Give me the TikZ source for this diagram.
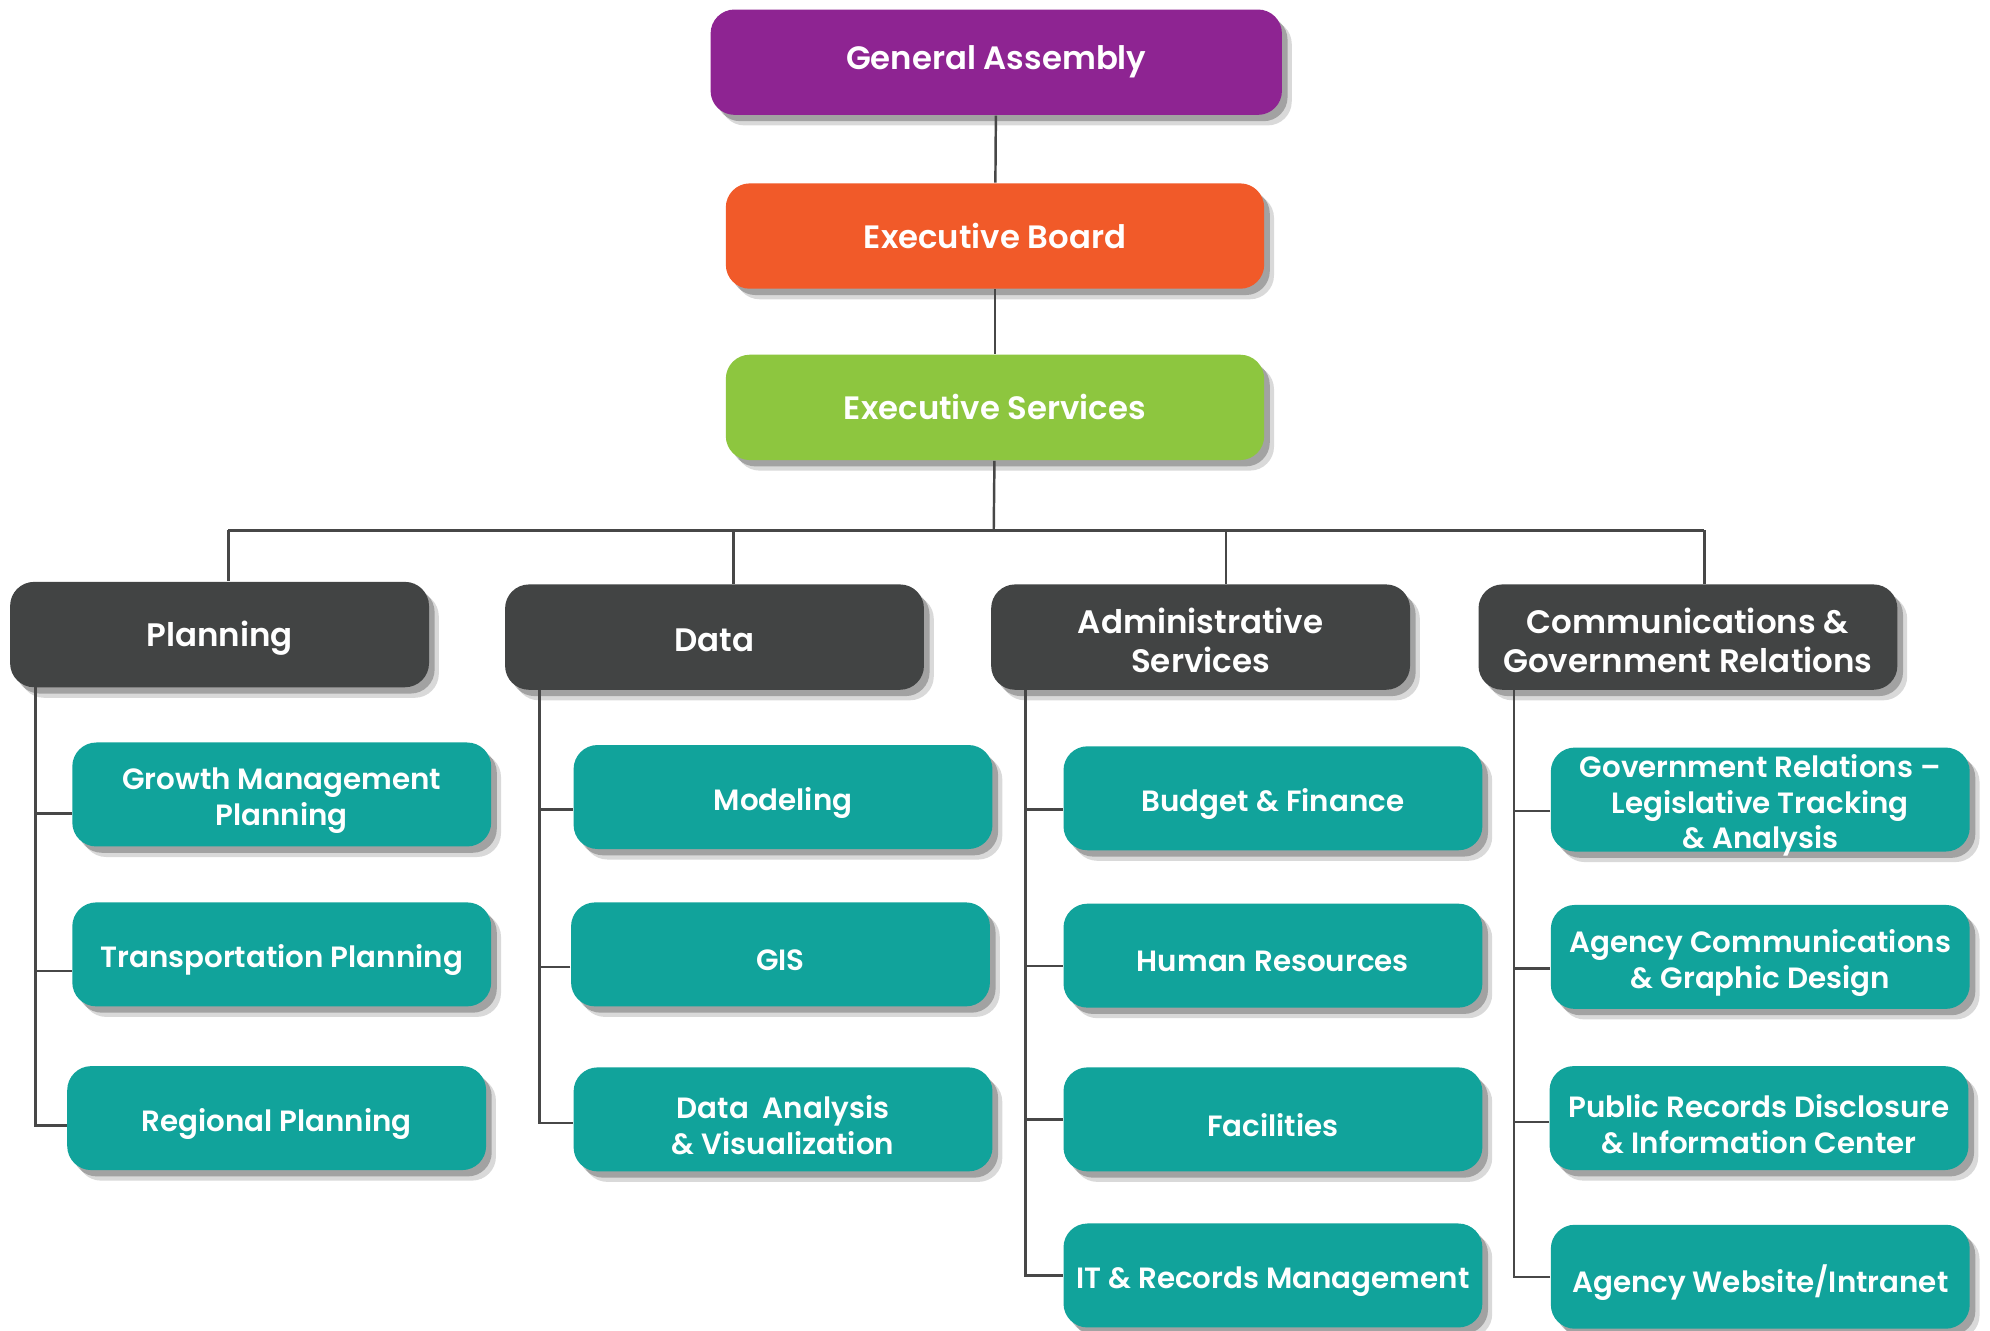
\documentclass[tikz,border=0pt]{standalone}
\usepackage{fontspec}
\IfFontExistsTF{Poppins SemiBold}{\setmainfont{Poppins}[BoldFont={Poppins SemiBold}]}{\setmainfont{Poppins}}
\usepackage{tikz}
\usetikzlibrary{shadows}
\usetikzlibrary{calc}
\definecolor{gapurple}{HTML}{8E2492}
\definecolor{eborange}{HTML}{F15A29}
\definecolor{esgreen}{HTML}{8DC63F}
\definecolor{deptgray}{HTML}{424444}
\definecolor{unitteal}{HTML}{11A39B}
\definecolor{linegray}{HTML}{474747}

\begin{document}
\begin{tikzpicture}[x=0.0127cm,y=-0.0127cm,
    box/.style={rounded corners=0.24cm, text=white, align=center, inner sep=0pt,
      drop shadow={shadow xshift=2.8pt, shadow yshift=-3pt, opacity=0.15, fill=black},
      drop shadow={shadow xshift=1.6pt, shadow yshift=-1.8pt, opacity=0.25, fill=black}},
    boxtext/.style={text=white, align=center, inner sep=0pt},
    topbox/.style={box, fill=#1, minimum width=5.385cm, minimum height=1.054cm,
      font=\bfseries\fontsize{9.2}{11}\selectfont},
    deptbox/.style={box, fill=deptgray, minimum width=4.19cm, minimum height=1.054cm,
      label={[boxtext, font=\bfseries\fontsize{9.25}{10.9}\selectfont, yshift=-0.9pt]center:{#1}}},
    unitbox/.style={box, fill=unitteal, minimum width=4.19cm, minimum height=1.04cm,
      label={[boxtext, font=\bfseries\fontsize{8.35}{10.1}\selectfont, yshift=-1.7pt]center:{#1}}},
    link/.style={draw=linegray, line width=0.7pt}]
  \fill[white] (0,0) rectangle (1568,1048);
  \useasboundingbox (0,0) rectangle (1568,1048);

  % top of the chart
  \node[topbox=gapurple, minimum width=5.715cm] (ga) at (785,49) {General Assembly};
  \node[topbox=eborange] (eb) at (784,186) {Executive Board};
  \node[topbox=esgreen] (es) at (784,321) {Executive Services};
  \draw[link] (ga) -- (eb);
  \draw[link] (eb) -- (es);

  % departments
  \node[deptbox={Planning}] (plan) at (173,500) {};
  \node[deptbox={Data}] (data) at (563,502) {};
  \node[deptbox={Administrative\\Services}] (admin) at (946,502) {};
  \node[deptbox={Communications \&\\Government Relations}] (comm) at (1330,502) {};

  \coordinate (bus) at (783,418);
  \coordinate (dplan) at (180,418);
  \coordinate (ddata) at (578,418);
  \coordinate (dadmin) at (966,418);
  \coordinate (dcomm) at (1343,418);
  \draw[link] (es) -- (bus);
  \draw[link] (dplan) -- (dcomm);
  \foreach \d/\n in {dplan/plan,ddata/data,dadmin/admin,dcomm/comm}
    \draw[link] (\d) -- (\d |- \n.north);

  % units
  \node[unitbox={Growth Management\\Planning}] (gm) at (222,626) {};
  \node[unitbox={Transportation Planning}] (tp) at (222,752) {};
  \node[unitbox={Regional Planning}] (rp) at (218,881) {};

  \node[unitbox={Modeling}] (mod) at (617,628) {};
  \node[unitbox={GIS}] (gis) at (615,752) {};
  \node[unitbox={Data\ \ Analysis\\\& Visualization}] (dav) at (617,882) {};

  \node[unitbox={Budget \& Finance}] (bf) at (1003,629) {};
  \node[unitbox={Human Resources}] (hr) at (1003,753) {};
  \node[unitbox={Facilities}] (fac) at (1003,882) {};
  \node[unitbox={IT \& Records Management}] (it) at (1003,1005) {};

  \node[unitbox={Government Relations --\\Legislative Tracking\\\& Analysis}] (gr) at (1387,630) {};
  \node[unitbox={Agency Communications\\\& Graphic Design}] (ac) at (1387,754) {};
  \node[unitbox={Public Records Disclosure\\\& Information Center}] (pr) at (1386,881) {};
  \node[unitbox={Agency Website/Intranet}] (web) at (1387,1006) {};

  \coordinate (tplan) at (28,541);
  \coordinate (tdata) at (425,544);
  \coordinate (tadmin) at (808,544);
  \coordinate (tcomm) at (1193,544);
  \foreach \n/\dy in {gm/15,tp/13,rp/6}
    \draw[link] ($(\n.west)+(0,\dy)$) -| (tplan);
  \foreach \n/\dy in {mod/10,gis/10,dav/3}
    \draw[link] ($(\n.west)+(0,\dy)$) -| (tdata);
  \foreach \n/\dy in {bf/9,hr/8,fac/0,it/0}
    \draw[link] ($(\n.west)+(0,\dy)$) -| (tadmin);
  \foreach \n/\dy in {gr/9,ac/9,pr/3,web/0}
    \draw[link] ($(\n.west)+(0,\dy)$) -| (tcomm);
\end{tikzpicture}
\end{document}
